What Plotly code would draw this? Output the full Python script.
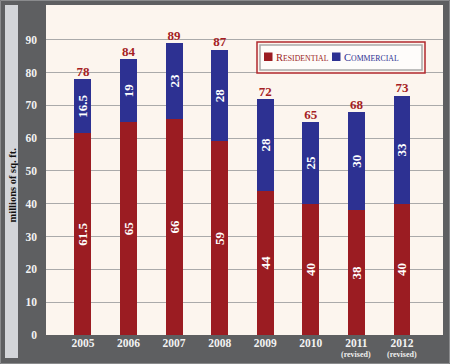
import plotly.graph_objects as go

years = ["2005", "2006", "2007", "2008", "2009", "2010", "2011", "2012"]
revised = [False, False, False, False, False, False, True, True]
residential = [61.5, 65, 66, 59, 44, 40, 38, 40]
commercial = [16.5, 19, 23, 28, 28, 25, 30, 33]
totals = [78, 84, 89, 87, 72, 65, 68, 73]
y_ticks = [0, 10, 20, 30, 40, 50, 60, 70, 80, 90]

RED = "#9b1c22"
BLUE = "#2d3192"
TOTAL_RED = "#a51d24"
DARK = "#5e5f61"
CREAM = "#fcf5ee"
SERIF = "Liberation Serif"

W, H = 450, 364
L, R, T, B = 46, 7, 5, 29
PW, PH = W - L - R, H - T - B


def px(xp):
    return (xp - L) / PW


def py(yp):
    return (H - B - yp) / PH


xpos = list(range(len(years)))

fig = go.Figure()
fig.add_trace(go.Bar(
    x=xpos, y=residential, name="Residential", marker_color=RED,
    marker_line_width=0, width=0.37,
    text=[f"{v:g}" for v in residential], textposition="inside",
    insidetextanchor="middle", textangle=-90,
    textfont=dict(family=SERIF, size=13, color="white", weight="bold"),
    showlegend=False, hoverinfo="skip"))
fig.add_trace(go.Bar(
    x=xpos, y=commercial, name="Commercial", marker_color=BLUE,
    marker_line_width=0, width=0.37,
    text=[f"{v:g}" for v in commercial], textposition="inside",
    insidetextanchor="middle", textangle=-90,
    textfont=dict(family=SERIF, size=13, color="white", weight="bold"),
    showlegend=False, hoverinfo="skip"))
fig.add_trace(go.Scatter(
    x=xpos, y=[r + c for r, c in zip(residential, commercial)],
    mode="text", text=[str(t) for t in totals], textposition="top center",
    textfont=dict(family=SERIF, size=13, color=TOTAL_RED, weight="bold"),
    showlegend=False, hoverinfo="skip", cliponaxis=False))

shapes = [
    dict(type="rect", xref="paper", yref="paper", x0=px(5), x1=px(18),
         y0=py(358), y1=py(5), fillcolor="#d3d5d9", line_width=0, layer="below"),
    dict(type="rect", xref="paper", yref="paper", x0=px(0.5), x1=px(449.5),
         y0=py(363.5), y1=py(0.5), line=dict(color="#8a8b8d", width=1)),
    dict(type="rect", xref="paper", yref="paper", x0=px(257), x1=px(425),
         y0=py(73), y1=py(42), line=dict(color="#b0292e", width=1.5),
         fillcolor=CREAM),
    dict(type="rect", xref="paper", yref="paper", x0=px(260), x1=px(422),
         y0=py(70), y1=py(45), line=dict(color="#a9a9a9", width=1.5),
         fillcolor="#fefcfa"),
    dict(type="rect", xref="paper", yref="paper", x0=px(264), x1=px(272.5),
         y0=py(61), y1=py(52.5), line_width=0, fillcolor=RED),
    dict(type="rect", xref="paper", yref="paper", x0=px(332), x1=px(340.5),
         y0=py(61), y1=py(52.5), line_width=0, fillcolor=BLUE),
]

annotations = [
    dict(xref="paper", yref="paper", x=px(273.5), y=py(57), xanchor="left",
         yanchor="middle", showarrow=False,
         text="R<span style='font-size:7.8px'>ESIDENTIAL</span>",
         font=dict(family=SERIF, size=10.5, color=RED)),
    dict(xref="paper", yref="paper", x=px(341.5), y=py(57), xanchor="left",
         yanchor="middle", showarrow=False,
         text="C<span style='font-size:7.8px'>OMMERCIAL</span>",
         font=dict(family=SERIF, size=10.5, color=BLUE)),
    dict(xref="paper", yref="paper", x=px(11.5), y=py(185), xanchor="center",
         yanchor="middle", showarrow=False, textangle=-90,
         text="millions of sq. ft.",
         font=dict(family=SERIF, size=10.5, color="#111111", weight="bold")),
]
for i, rv in enumerate(revised):
    if rv:
        annotations.append(dict(
            xref="x", yref="paper", x=xpos[i], y=py(354.5), xanchor="center",
            yanchor="middle", showarrow=False, text="(revised)",
            font=dict(family=SERIF, size=8, color="#eeeeee", weight="bold")))

fig.update_layout(
    width=W, height=H, barmode="stack",
    margin=dict(l=L, r=R, t=T, b=B, pad=0, autoexpand=False),
    paper_bgcolor=DARK, plot_bgcolor=CREAM,
    shapes=shapes, annotations=annotations,
    uniformtext=dict(minsize=12, mode="show"),
    xaxis=dict(range=[-0.81, 7.9], tickvals=xpos, ticktext=years,
               showgrid=False, zeroline=False, showline=False, ticks="",
               ticklabelstandoff=-1, automargin=False,
               tickfont=dict(family=SERIF, size=11.5, color="#f2f2f2", weight="bold")),
    yaxis=dict(range=[0, 100.6], tickvals=y_ticks, showgrid=True,
               gridcolor="#aaaaaa", gridwidth=1, zeroline=False, showline=False,
               ticks="", ticklabelstandoff=8, automargin=False,
               tickfont=dict(family=SERIF, size=11.5, color="#f2f2f2", weight="bold")),
)

fig.write_html("out.html",
               config={"displayModeBar": False},
               post_script="document.body.style.margin='0';"
                           "document.body.style.padding='0';"
                           "document.body.style.overflow='hidden';")
